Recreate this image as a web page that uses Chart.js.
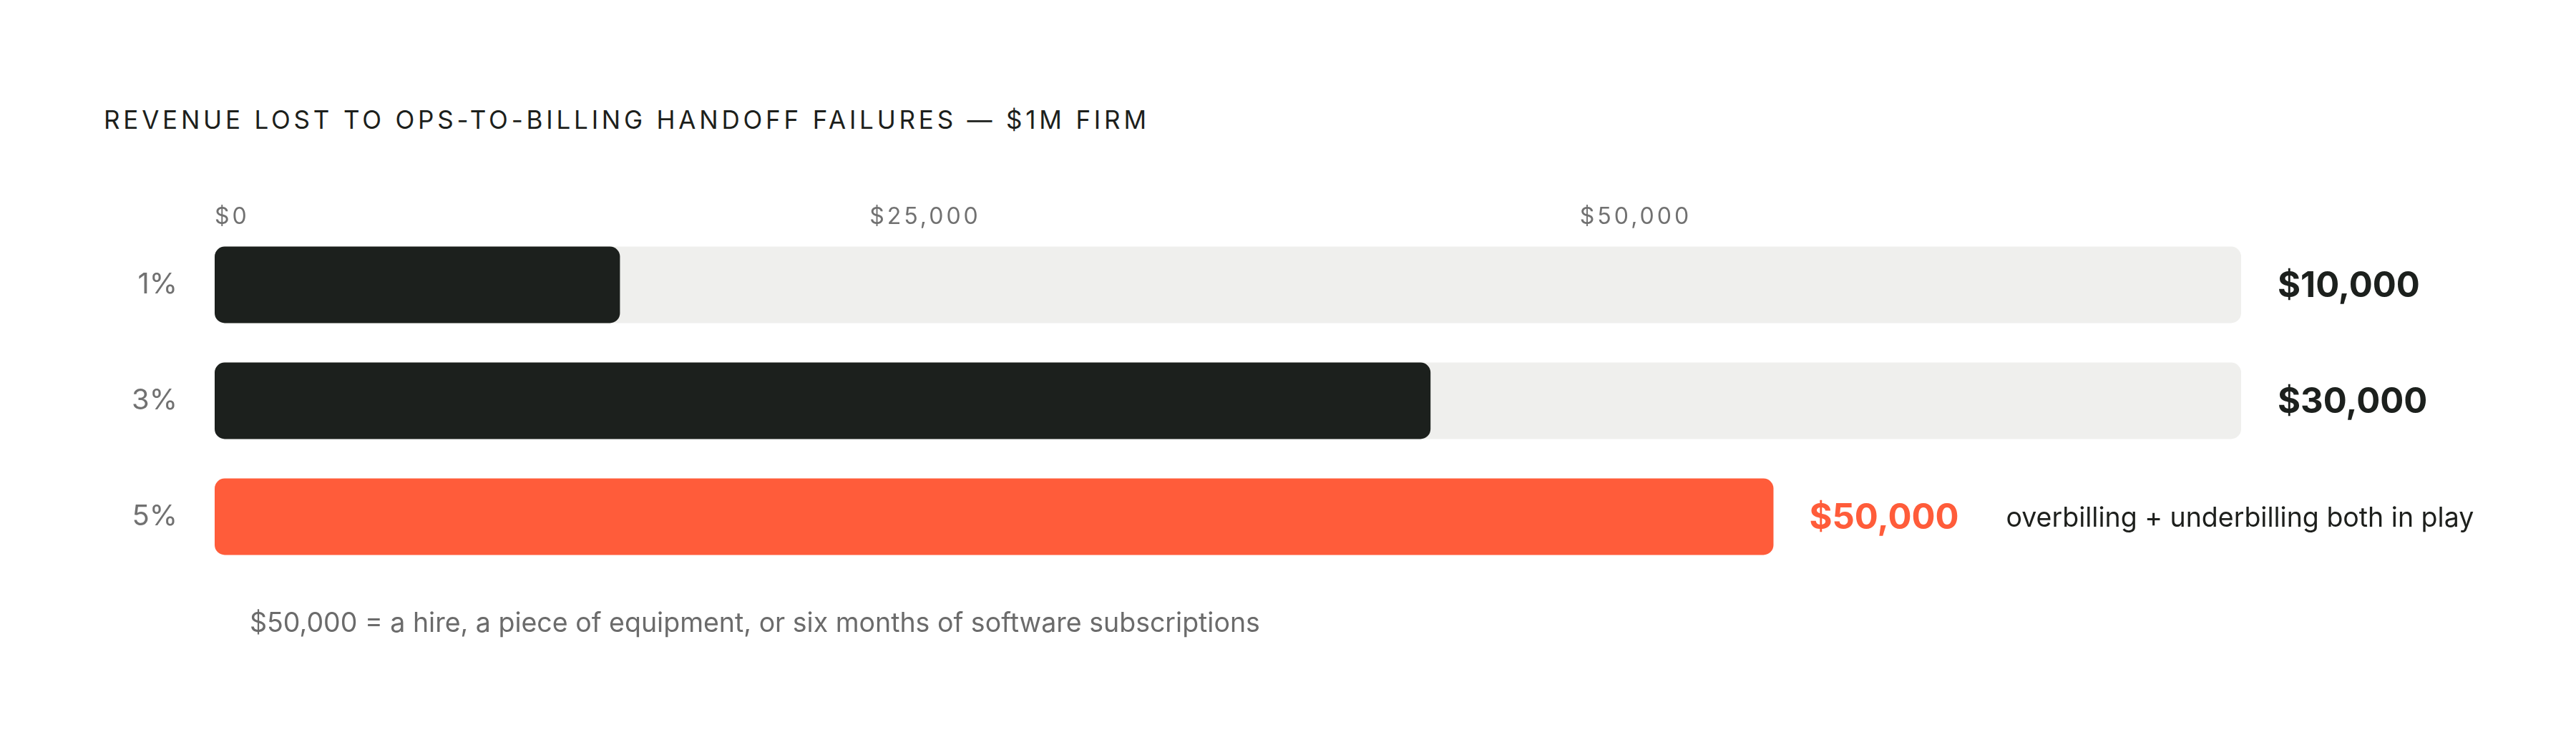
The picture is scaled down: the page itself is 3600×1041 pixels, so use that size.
<!DOCTYPE html>
<html>
<head>
<meta charset="utf-8">
<script src="https://cdn.jsdelivr.net/npm/chart.js@4.4.1/dist/chart.umd.min.js"></script>
<style>
  html, body { margin: 0; padding: 0; background: #ffffff; width: 3600px; height: 1041px; overflow: hidden; }
  #wrap { position: relative; width: 3600px; height: 1041px; font-family: Inter, "Noto Sans", sans-serif; }
  #c { position: absolute; left: 0; top: 0; }
  #title { position: absolute; left: 145px; top: 150px; font-size: 35px; line-height: 35px; letter-spacing: 4.8px; color: #1d1f1c; white-space: nowrap; }
  #foot { position: absolute; left: 349px; top: 851px; font-size: 37.5px; line-height: 37.5px; color: #6b6b6b; white-space: nowrap; }
</style>
</head>
<body>
<div id="wrap">
  <div id="title">REVENUE LOST TO OPS-TO-BILLING HANDOFF FAILURES — $1M FIRM</div>
  <canvas id="c" width="3600" height="1041"></canvas>
  <div id="foot">$50,000 = a hire, a piece of equipment, or six months of software subscriptions</div>
</div>
<script>
// ---- data ----
const rateLabels = ['1%', '3%', '5%'];
const lossValues = [10000, 30000, 50000];
const trackValues = [50000, 50000, null];
const axisTickValues = [0, 25000, 50000];
const highlightIndex = 2;
const highlightNote = 'overbilling + underbilling both in play';

// ---- style / layout constants ----
const DARK = '#1c201d';
const ORANGE = '#ff5c3a';
const TRACK = '#efefed';
const GRAY = '#717171';
const HIGHLIGHT_AXIS_MAX = 65000;   // highlighted row's bar area is narrower
const TOP_AXIS_MAX = 71300;          // placement of the header tick labels

const fmt = v => '$' + v.toLocaleString('en-US');

const baseData = lossValues.map((v, i) => i === highlightIndex ? null : v);
const hiData = lossValues.map((v, i) => i === highlightIndex ? v : null);

const labelPlugin = {
  id: 'valueLabels',
  afterDatasetsDraw(chart) {
    const ctx = chart.ctx;
    const ys = chart.scales.y;
    ctx.save();
    ctx.textBaseline = 'middle';
    ctx.textAlign = 'left';
    lossValues.forEach((v, i) => {
      const yc = ys.getPixelForValue(i);
      let x;
      if (i === highlightIndex) {
        x = chart.scales.xHi.getPixelForValue(v) + 50;
        ctx.fillStyle = ORANGE;
      } else {
        x = chart.scales.x.getPixelForValue(trackValues[i]) + 51;
        ctx.fillStyle = DARK;
      }
      ctx.font = '700 49px Inter';
      const txt = fmt(v);
      ctx.fillText(txt, x, yc + 2);
      if (i === highlightIndex) {
        const w = ctx.measureText(txt).width;
        ctx.font = '400 37.5px Inter';
        ctx.fillStyle = '#1d1f1c';
        ctx.fillText(highlightNote, x + w + 66, yc + 3);
      }
    });
    ctx.restore();
  },
  afterDraw(chart) {
    // header tick labels of the top axis: first one starts at the axis origin, others centred
    const s = chart.scales.xTop;
    const ctx = chart.ctx;
    ctx.save();
    ctx.font = '400 32px Inter';
    ctx.letterSpacing = '4px';
    ctx.fillStyle = GRAY;
    ctx.textBaseline = 'middle';
    s.ticks.forEach((t, i) => {
      ctx.textAlign = i === 0 ? 'left' : 'center';
      ctx.fillText(fmt(t.value), s.getPixelForValue(t.value), s.bottom - 14);
    });
    ctx.restore();
  }
};

Chart.defaults.font.family = 'Inter';

new Chart(document.getElementById('c'), {
  type: 'bar',
  data: {
    labels: rateLabels,
    datasets: [
      { label: 'track', data: trackValues, xAxisID: 'x', backgroundColor: TRACK, order: 3 },
      { label: 'loss', data: baseData, xAxisID: 'x', backgroundColor: DARK, order: 1 },
      { label: 'highlight', data: hiData, xAxisID: 'xHi', backgroundColor: ORANGE, order: 2 }
    ]
  },
  options: {
    indexAxis: 'y',
    responsive: false,
    animation: false,
    devicePixelRatio: 1,
    layout: { padding: { left: 0, right: 468, top: 267, bottom: 238 } },
    datasets: {
      bar: { grouped: false, categoryPercentage: 1, barPercentage: 0.66, borderRadius: 14, borderSkipped: false }
    },
    plugins: { legend: { display: false }, tooltip: { enabled: false }, title: { display: false } },
    scales: {
      x: { type: 'linear', min: 0, max: 50000, display: false },
      xHi: { type: 'linear', min: 0, max: HIGHLIGHT_AXIS_MAX, display: false },
      xTop: {
        type: 'linear', position: 'top', min: 0, max: TOP_AXIS_MAX,
        grid: { display: false, drawTicks: false }, border: { display: false },
        afterBuildTicks: s => { s.ticks = axisTickValues.map(v => ({ value: v })); },
        afterFit: s => { s.height = 50; },
        ticks: { display: false }
      },
      y: {
        type: 'category', position: 'left',
        grid: { display: false, drawTicks: false }, border: { display: false },
        afterFit: s => { s.width = 300; },
        ticks: { color: GRAY, font: { family: 'Inter', size: 40 }, padding: 52 }
      }
    }
  },
  plugins: [labelPlugin]
});
</script>
</body>
</html>
